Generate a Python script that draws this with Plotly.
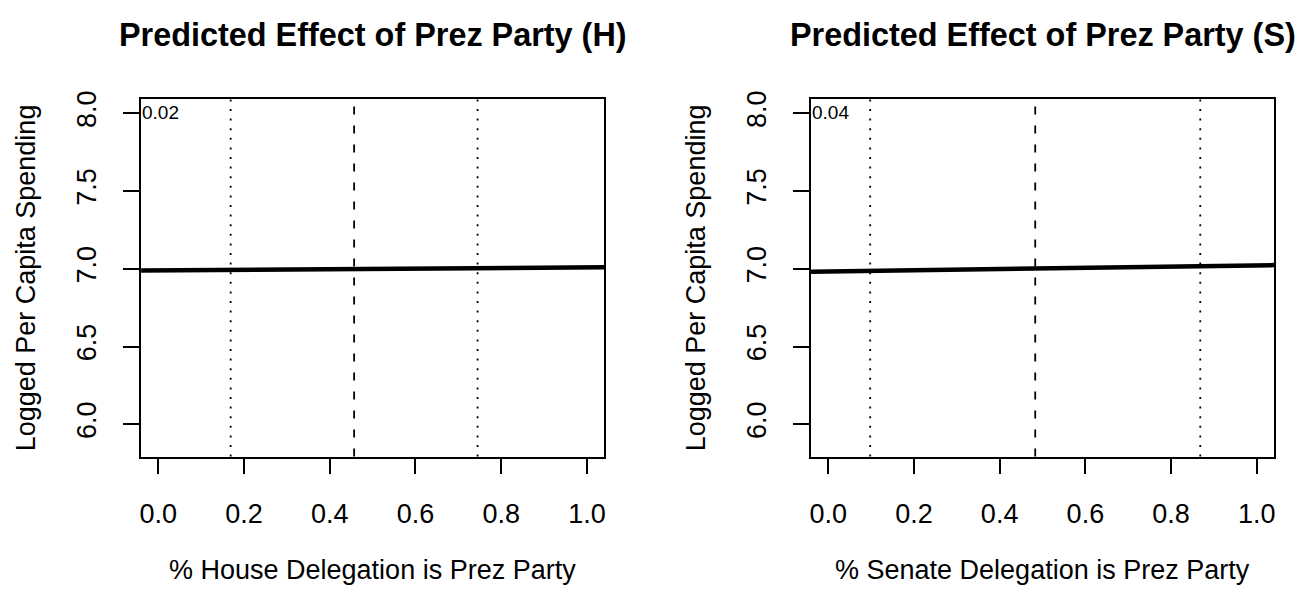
import plotly.graph_objects as go

# ---- data ----
titles = ["Predicted Effect of Prez Party (H)", "Predicted Effect of Prez Party (S)"]
x_titles = ["% House Delegation is Prez Party", "% Senate Delegation is Prez Party"]
y_title = "Logged Per Capita Spending"
intercepts = [6.989, 6.982]
slopes = [0.02, 0.04]
slope_labels = ["0.02", "0.04"]
means = [0.457, 0.483]
sds = [0.288, 0.385]
x_ticks = [0.0, 0.2, 0.4, 0.6, 0.8, 1.0]
x_tick_labels = ["0.0", "0.2", "0.4", "0.6", "0.8", "1.0"]
y_ticks = [6.0, 6.5, 7.0, 7.5, 8.0]
y_tick_labels = ["6.0", "6.5", "7.0", "7.5", "8.0"]

W, H = 1309, 592
x_range = [-0.04, 1.04]
y_range = [5.792, 8.09]
FONT = "Liberation Sans, Arial, Helvetica, sans-serif"
BASE = 27

# plot-box pixel positions
boxes_x = [(139.5, 603.9), (811.5, 1275.9)]
box_top, box_bot = 91.7, 454.5

fig = go.Figure()
ann = []
shapes = []
for i in range(2):
    xa = "x" if i == 0 else "x2"
    ya = "y" if i == 0 else "y2"
    xs = list(x_range)
    ys = [intercepts[i] + slopes[i] * v for v in xs]
    fig.add_trace(go.Scatter(x=xs, y=ys, mode="lines", xaxis=xa, yaxis=ya,
                             line=dict(color="black", width=4.5), showlegend=False,
                             hoverinfo="skip"))
    # mean and +/- sd vertical lines
    for v, dash in [(means[i] - sds[i], "2px,7.6px"), (means[i], "8px,11px"),
                    (means[i] + sds[i], "2px,7.6px")]:
        shapes.append(dict(type="line", xref=xa, yref=ya + " domain", x0=v, x1=v,
                           y0=0, y1=1, line=dict(color="black", width=1.8, dash=dash)))
    ann.append(dict(xref=xa, yref=ya, x=x_range[0], y=8.0, text=slope_labels[i],
                    showarrow=False, xanchor="left", yanchor="middle", xshift=-1, yshift=1,
                    font=dict(size=19, color="black", family=FONT)))
    cx = (boxes_x[i][0] + boxes_x[i][1]) / 2 / W
    ann.append(dict(xref="paper", yref="paper", x=cx, y=1 - 26 / H, text="<b>%s</b>" % titles[i],
                    showarrow=False, xanchor="center", yanchor="middle",
                    font=dict(size=32.4, color="black", family=FONT)))
    ann.append(dict(xref="paper", yref="paper", x=cx, y=1 - 570 / H, text=x_titles[i],
                    showarrow=False, xanchor="center", yanchor="middle",
                    font=dict(size=BASE, color="black", family=FONT)))
    ann.append(dict(xref="paper", yref="paper", x=(boxes_x[i][0] - 115) / W,
                    y=1 - (box_top + box_bot) / 2 / H, text=y_title, textangle=-90,
                    showarrow=False, xanchor="center", yanchor="middle",
                    font=dict(size=BASE, color="black", family=FONT)))

axis_common = dict(showgrid=False, zeroline=False, showline=True, mirror=True,
                   linecolor="black", linewidth=1.8, ticks="outside", ticklen=16,
                   tickwidth=1.8, tickcolor="black",
                   tickfont=dict(size=BASE, color="black", family=FONT))
ydom = [1 - box_bot / H, 1 - box_top / H]
layout = dict(
    width=W, height=H, margin=dict(l=0, r=0, t=0, b=0),
    paper_bgcolor="white", plot_bgcolor="white",
    annotations=ann, shapes=shapes,
)
for i in range(2):
    xk = "xaxis" if i == 0 else "xaxis2"
    yk = "yaxis" if i == 0 else "yaxis2"
    layout[xk] = dict(axis_common, domain=[boxes_x[i][0] / W, boxes_x[i][1] / W],
                      range=x_range, tickvals=x_ticks, ticktext=x_tick_labels,
                      ticklabelstandoff=16, anchor="y" if i == 0 else "y2")
    layout[yk] = dict(axis_common, domain=ydom, range=y_range, tickvals=y_ticks,
                      ticktext=y_tick_labels, tickangle=-90, ticklabelstandoff=16,
                      anchor="x" if i == 0 else "x2")
fig.update_layout(**layout)
fig.write_html("out.html")
